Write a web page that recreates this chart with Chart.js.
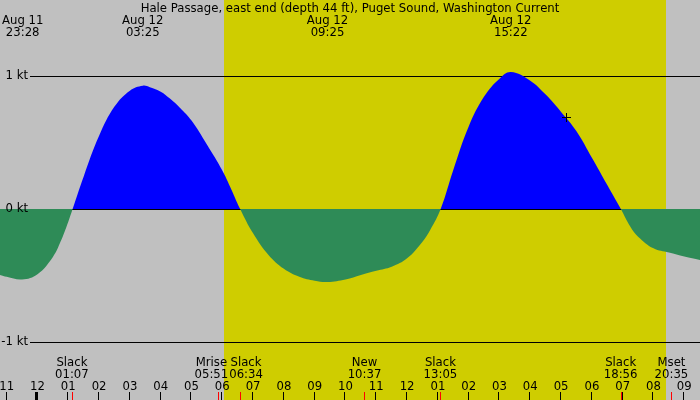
<!DOCTYPE html>
<html>
<head>
<meta charset="utf-8">
<script src="https://cdn.jsdelivr.net/npm/chart.js"></script>
<style>
  html, body { margin: 0; padding: 0; background: #c0c0c0; }
  #wrap { width: 700px; height: 400px; }
</style>
</head>
<body>
<div id="wrap"><canvas id="current"></canvas></div>
<script>
// hours are counted from midnight Aug 12 (negative = evening of Aug 11)
var sampleHours = [-1.2175, -1.0, -0.5, 0, 0.5, 0.75, 1.0, 1.14, 1.5, 2.0, 2.5, 3.0, 3.42, 3.65, 4.0, 4.3, 4.63, 5.0, 5.5, 6.0, 6.25,
                   6.58, 7.0, 7.5, 8.0, 8.5, 9.0, 9.42, 10.0, 10.5, 11.0, 11.5, 12.0, 12.5, 12.75,
                   13.09, 13.5, 14.0, 14.5, 15.0, 15.37, 16.0, 16.5, 17.0, 17.5, 18.0, 18.5,
                   18.94, 19.25, 19.5, 20.0, 20.5, 21.0, 21.51];
var sampleKnots = [-0.496, -0.51, -0.53, -0.49, -0.36, -0.245, -0.095, 0, 0.245, 0.55, 0.77, 0.89, 0.927, 0.915, 0.882, 0.83, 0.76, 0.665, 0.485, 0.29, 0.17,
                   0, -0.183, -0.346, -0.45, -0.51, -0.54, -0.549, -0.53, -0.496, -0.464, -0.434, -0.371, -0.246, -0.158,
                   0, 0.293, 0.62, 0.845, 0.98, 1.03, 0.965, 0.86, 0.73, 0.585, 0.385, 0.18,
                   0, -0.133, -0.208, -0.296, -0.328, -0.358, -0.383];

var ktLevels = [1, 0, -1];
var ktLabels = ['1 kt', '0 kt', '-1 kt'];

var tickHours = [-1, 0, 1, 2, 3, 4, 5, 6, 7, 8, 9, 10, 11, 12, 13, 14, 15, 16, 17, 18, 19, 20, 21];
var tickLabels = ['11', '12', '01', '02', '03', '04', '05', '06', '07', '08', '09', '10', '11',
                  '12', '01', '02', '03', '04', '05', '06', '07', '08', '09'];

var peakDays = [11, 12, 12, 12];
var peakDates = ['Aug 11', 'Aug 12', 'Aug 12', 'Aug 12'];
var peakClock = ['23:28', '03:25', '09:25', '15:22'];

var eventNames = ['Slack', 'Mrise', 'Slack', 'New', 'Slack', 'Slack', 'Mset'];
var eventClock = ['01:07', '05:51', '06:34', '10:37', '13:05', '18:56', '20:35'];

var sunTimes = ['06:03', '20:25'];   // sunrise, sunset
var nowMarker = [17.175, 0.688];     // hour, knots

var title = 'Hale Passage, east end (depth 44 ft), Puget Sound, Washington Current';

function clockToHours(s, day) {
  var p = s.split(':');
  return ((day || 12) - 12) * 24 + parseInt(p[0], 10) + parseInt(p[1], 10) / 60;
}

var points = sampleHours.map(function (h, i) { return { x: h, y: sampleKnots[i] }; });

var FONT = '11.7px "DejaVu Sans"';

// place two-line labels centred on their time, pushing neighbours apart if they overlap
function layoutLabels(ctx, xs, l1, l2, width) {
  var boxes = xs.map(function (px, i) {
    var w = Math.max(ctx.measureText(l1[i]).width, ctx.measureText(l2[i]).width);
    return { c: px, w: w };
  });
  for (var i = 1; i < boxes.length; i++) {
    var a = boxes[i - 1], b = boxes[i];
    var overlap = (a.c + a.w / 2 + 1) - (b.c - b.w / 2);
    if (overlap > 0) { a.c -= overlap / 2; b.c += overlap / 2; }
  }
  boxes.forEach(function (b) {
    b.c = Math.max(2 + b.w / 2, Math.min(width - 2 - b.w / 2, b.c));
  });
  return boxes.map(function (b) { return b.c; });
}

var tideDecor = {
  id: 'tideDecor',
  beforeDraw: function (chart) {
    var ctx = chart.ctx, xs = chart.scales.x;
    ctx.save();
    ctx.fillStyle = '#c0c0c0';
    ctx.fillRect(0, 0, chart.width, chart.height);
    var x0 = xs.getPixelForValue(clockToHours(sunTimes[0]));
    var x1 = xs.getPixelForValue(clockToHours(sunTimes[1]));
    ctx.fillStyle = '#cfcd00';
    ctx.fillRect(Math.round(x0), 0, Math.round(x1) - Math.round(x0), chart.height);
    ctx.restore();
  },
  beforeDatasetsDraw: function (chart) {
    var ctx = chart.ctx, ys = chart.scales.y;
    ctx.save();
    ctx.fillStyle = '#000';
    ktLevels.forEach(function (v) {
      var py = Math.round(ys.getPixelForValue(v));
      ctx.fillRect(30, py, chart.width - 30, 1);
    });
    ctx.restore();
  },
  afterDatasetsDraw: function (chart) {
    var ctx = chart.ctx, xs = chart.scales.x, ys = chart.scales.y;
    var W = chart.width, H = chart.height;
    ctx.save();
    ctx.font = FONT;
    ctx.fillStyle = '#000';

    // "now" cross on the curve
    var mx = Math.floor(xs.getPixelForValue(nowMarker[0]));
    var my = Math.floor(ys.getPixelForValue(nowMarker[1]));
    ctx.fillRect(mx - 4, my, 9, 1);
    ctx.fillRect(mx, my - 4, 1, 9);

    // title
    ctx.textAlign = 'center';
    ctx.textBaseline = 'alphabetic';
    ctx.fillText(title, W / 2, 12);

    // max / min labels along the top
    var peakX = peakClock.map(function (c, i) { return xs.getPixelForValue(clockToHours(c, peakDays[i])); });
    var topX = layoutLabels(ctx, peakX, peakDates, peakClock, W);
    topX.forEach(function (px, i) {
      ctx.fillText(peakDates[i], px, 24);
      ctx.fillText(peakClock[i], px, 36);
    });

    // knot labels
    ctx.textAlign = 'right';
    ctx.textBaseline = 'middle';
    ktLevels.forEach(function (v, i) {
      ctx.fillText(ktLabels[i], 28, ys.getPixelForValue(v));
    });

    // slack / moon events along the bottom
    ctx.textAlign = 'center';
    ctx.textBaseline = 'alphabetic';
    var evX = eventClock.map(function (c) { return xs.getPixelForValue(clockToHours(c)); });
    var botX = layoutLabels(ctx, evX, eventNames, eventClock, W);
    botX.forEach(function (px, i) {
      ctx.fillText(eventNames[i], px, 366);
      ctx.fillText(eventClock[i], px, 378);
    });

    // hour ticks
    tickHours.forEach(function (h, i) {
      var px = xs.getPixelForValue(h);
      ctx.fillText(tickLabels[i], px, 390);
      if (h % 24 === 0) ctx.fillRect(Math.round(px) - 2, 392, 3, H - 392);
      else ctx.fillRect(Math.round(px) - 1, 392, 1, H - 392);
    });
    ctx.fillStyle = '#ff0000';
    evX.forEach(function (px) {
      ctx.fillRect(Math.round(px), 392, 1, H - 392);
    });
    ctx.restore();
  }
};

var ctx = document.getElementById('current').getContext('2d');
var myChart = new Chart(ctx, {
  type: 'line',
  data: {
    datasets: [{
      label: 'Current',
      data: points,
      fill: { target: 'origin', above: '#0000ff', below: '#2e8b57' },
      borderWidth: 0,
      pointRadius: 0,
      tension: 0.4
    }]
  },
  options: {
    responsive: true,
    maintainAspectRatio: false,
    animation: false,
    layout: { padding: 0, autoPadding: false },
    scales: {
      x: { type: 'linear', display: false, min: -1.2175, max: 21.51 },
      y: { display: false, min: -191 / 133, max: 209 / 133 }
    },
    plugins: {
      legend: { display: false },
      tooltip: { enabled: false }
    }
  },
  plugins: [tideDecor]
});
</script>
</body>
</html>
